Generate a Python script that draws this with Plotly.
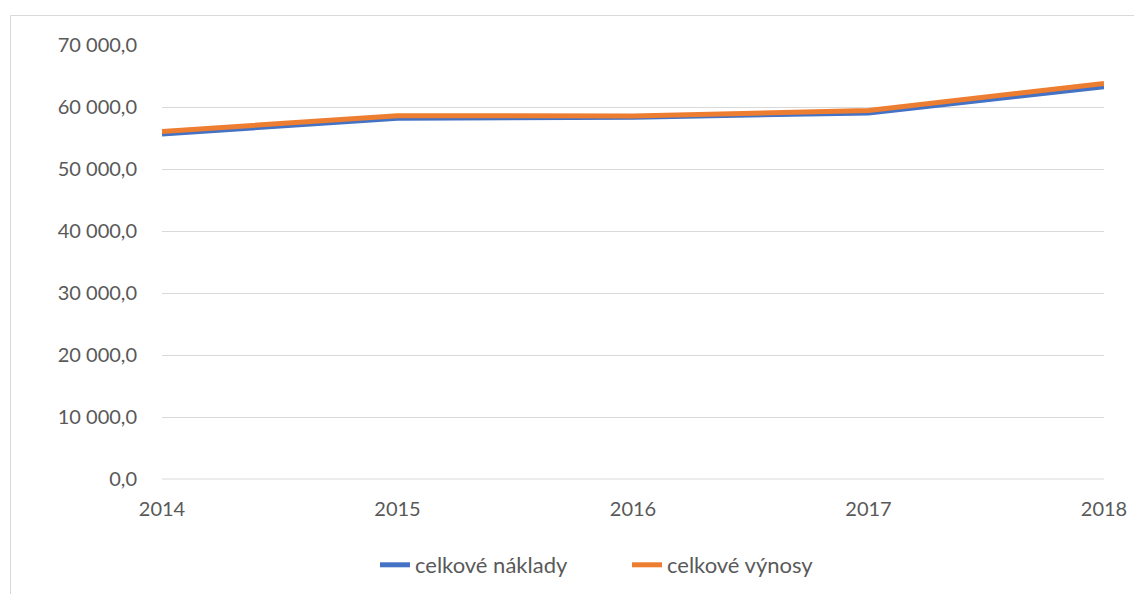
import plotly.graph_objects as go

years = [2014, 2015, 2016, 2017, 2018]
naklady = [55650, 58200, 58350, 59050, 63250]
vynosy = [56050, 58600, 58550, 59450, 63800]
y_ticks = [0, 10000, 20000, 30000, 40000, 50000, 60000, 70000]

FONT = "Lato"
TXT = "#595959"

fig = go.Figure()
fig.add_trace(go.Scatter(x=years, y=naklady, mode="lines", name="celkové náklady",
                         line=dict(color="#4472C4", width=5)))
fig.add_trace(go.Scatter(x=years, y=vynosy, mode="lines", name="celkové výnosy",
                         line=dict(color="#ED7D31", width=5)))

# the page body has an 8px default margin; compensate so the screen positions match
OFF = 8
W, H = 1142, 594
L = 162 - OFF
R = W - (1104 - OFF)
T = 45 - OFF
B = H - (479 - OFF)
pw, ph = W - L - R, H - T - B

def px_x(x):
    return (x - OFF - L) / pw

def px_y(y):
    return (479 - y) / ph

fig.update_layout(
    width=W, height=H,
    margin=dict(l=L, r=R, t=T, b=B, pad=0),
    paper_bgcolor="white", plot_bgcolor="white",
    separators=", ",
    font=dict(family=FONT, size=20, color=TXT),
    showlegend=True,
    legend=dict(orientation="h", x=px_x(375), xanchor="left", y=px_y(565),
                yanchor="middle", font=dict(family=FONT, size=22, color=TXT),
                entrywidth=207, entrywidthmode="pixels", tracegroupgap=0),
    xaxis=dict(range=[2014, 2018], tickvals=years, ticktext=[str(y) for y in years],
               showgrid=False, zeroline=False, showline=False, ticks="",
               ticklabelstandoff=16, tickfont=dict(family=FONT, size=20, color=TXT)),
    yaxis=dict(range=[0, 70000], tickvals=y_ticks, tickformat=",.1f",
               showgrid=True, gridcolor="#d9d9d9", gridwidth=1,
               zeroline=False, showline=False, ticks="",
               ticklabelstandoff=24, tickfont=dict(family=FONT, size=20, color=TXT)),
    shapes=[dict(type="line", xref="paper", yref="paper",
                 x0=0, x1=1, y0=0, y1=0, line=dict(color="#d9d9d9", width=1), layer="below"),
            dict(type="rect", xref="paper", yref="paper",
                 x0=px_x(10.5), x1=px_x(1300),
                 y0=px_y(800), y1=px_y(15.5),
                 line=dict(color="#d9d9d9", width=1), fillcolor="rgba(0,0,0,0)")],
)

fig.write_html("out.html")
